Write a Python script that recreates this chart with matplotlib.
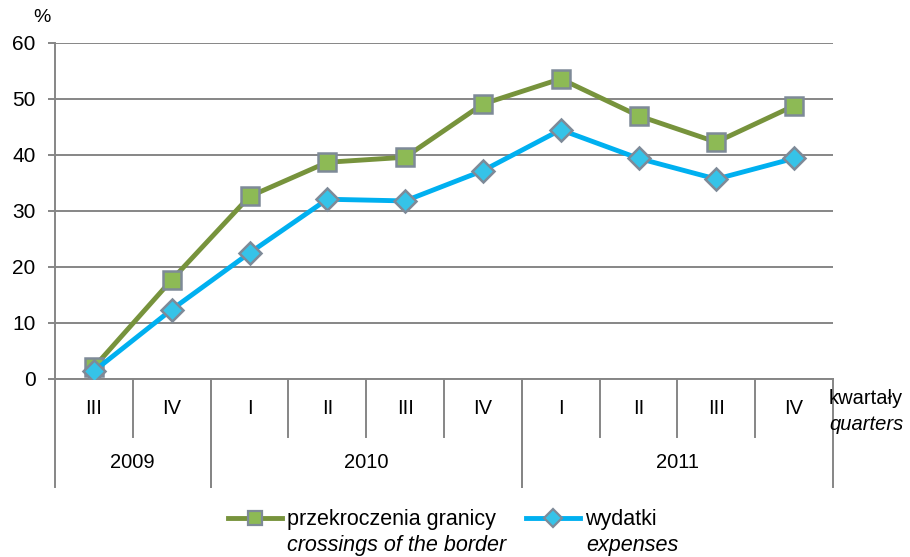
import matplotlib.pyplot as plt
from matplotlib.lines import Line2D

quarters = ["III", "IV", "I", "II", "III", "IV", "I", "II", "III", "IV"]
years = ["2009", "2010", "2011"]
year_spans = [(0, 1), (2, 5), (6, 9)]
crossings = [2.1, 17.7, 32.6, 38.7, 39.6, 49.1, 53.6, 47.0, 42.3, 48.8]
expenses = [1.4, 12.4, 22.5, 32.1, 31.8, 37.2, 44.5, 39.4, 35.7, 39.4]

green = "#77933C"
blue = "#00B0F0"
grid_col = "#868686"

plt.rcParams["font.family"] = ["Liberation Sans", "DejaVu Sans"]

fig = plt.figure(figsize=(9.1, 5.57), dpi=100)
ax = fig.add_axes([55 / 910, 178 / 557, 778 / 910, 336 / 557])

x = list(range(len(quarters)))
ax.plot(x, crossings, color=green, lw=3.5, marker="s", ms=12.5,
        mfc="#8DBA55", mec="#7E8A98", mew=1.8, zorder=3)
ax.plot(x, expenses, color=blue, lw=3.5, marker="D", ms=11,
        mfc="#35C3E8", mec="#7E8A98", mew=1.8, zorder=4)

ax.set_xlim(-0.5, len(quarters) - 0.5)
ax.set_ylim(0, 60)
ax.set_yticks(range(0, 61, 10))
ax.yaxis.grid(True, color=grid_col, lw=1.4)
ax.set_axisbelow(True)
for s in ["top", "right"]:
    ax.spines[s].set_visible(False)
ax.spines["left"].set_color(grid_col)
ax.spines["left"].set_linewidth(1.4)
ax.spines["bottom"].set_color(grid_col)
ax.spines["bottom"].set_linewidth(1.4)
ax.tick_params(axis="y", length=5, width=1.4, color=grid_col, pad=9, labelsize=15)
ax.set_xticks([])

# category axis with quarters and years
trans = ax.get_xaxis_transform()
q_low = -58 / 336
y_low = -108 / 336
for i, q in enumerate(quarters):
    ax.text(i, -29 / 336, q, transform=trans, ha="center", va="center",
            fontsize=14.5)
for i in range(1, len(quarters)):
    ax.plot([i - 0.5, i - 0.5], [0, q_low], transform=trans, color=grid_col,
            lw=1.4, clip_on=False)
for name, (a, b) in zip(years, year_spans):
    ax.text((a + b) / 2, -84 / 336, name, transform=trans, ha="center",
            va="center", fontsize=14.5)
    for edge in (a - 0.5, b + 0.5):
        ax.plot([edge, edge], [0, y_low], transform=trans, color=grid_col,
                lw=1.4, clip_on=False)

fig.text(42 / 910, 1 - 18 / 557, "%", fontsize=14, ha="center", va="center")
fig.text(829 / 910, 1 - 398 / 557, "kwartały", fontsize=14.5, va="center")
fig.text(829 / 910, 1 - 424 / 557, "quarters", fontsize=14.5, va="center",
         style="italic")

handles = [
    Line2D([], [], color=green, lw=3.5, marker="s", ms=10, mfc="#8DBA55",
           mec="#7E8A98", mew=1.6),
    Line2D([], [], color=blue, lw=3.5, marker="D", ms=9, mfc="#35C3E8",
           mec="#7E8A98", mew=1.6),
]
fig.legend(handles, ["przekroczenia granicy", "wydatki"], loc="center left",
           bbox_to_anchor=(228 / 910, 1 - 520 / 557), ncol=2, frameon=False,
           fontsize=15.5, handlelength=2.5, handletextpad=0.25,
           columnspacing=1.4, borderpad=0, borderaxespad=0)
fig.text(287 / 910, 1 - 546 / 557, "crossings of the border", fontsize=15.5,
         style="italic", va="center")
fig.text(586 / 910, 1 - 546 / 557, "expenses", fontsize=15.5, style="italic",
         va="center")

fig.savefig("out.png", dpi=100)
